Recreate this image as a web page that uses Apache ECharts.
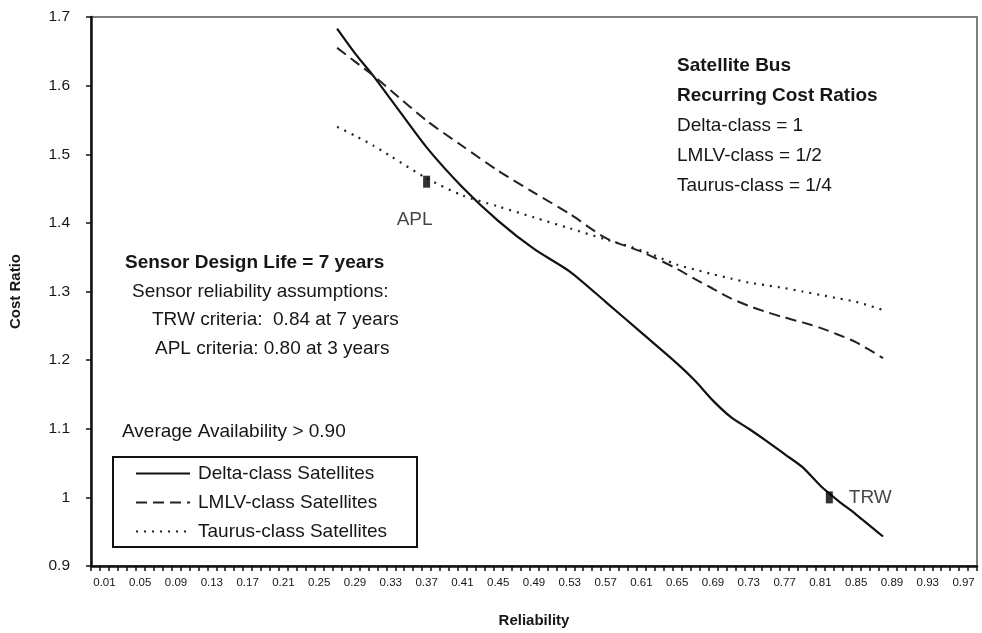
<!DOCTYPE html>
<html><head><meta charset="utf-8">
<script src="https://cdn.jsdelivr.net/npm/echarts@6/dist/echarts.min.js"></script>
<style>html,body{margin:0;padding:0;background:#fff}#c{width:982px;height:633px}</style>
</head><body><div id="c"></div>
<script>
// x categories: reliability 0.00 .. 0.98 (labels every 4th, starting at 0.01)
const categories = [];
for (let i = 0; i <= 98; i++) categories.push((i / 100).toFixed(2));

const sampleX = ['0.27','0.29','0.31','0.33','0.37','0.41','0.45','0.49','0.53','0.57','0.61','0.65','0.67','0.69','0.71','0.73','0.75','0.77','0.79','0.81','0.83','0.85','0.88'];
const deltaY  = [1.683,1.647,1.615,1.580,1.510,1.452,1.403,1.362,1.329,1.285,1.240,1.195,1.170,1.141,1.117,1.100,1.082,1.063,1.044,1.017,0.995,0.975,0.943];
const lmlvY   = [1.655,1.635,1.615,1.593,1.549,1.512,1.476,1.444,1.413,1.378,1.358,1.333,1.318,1.304,1.290,1.279,1.270,1.262,1.255,1.247,1.237,1.226,1.203];
const taurusY = [1.540,1.527,1.513,1.497,1.465,1.440,1.424,1.408,1.392,1.376,1.360,1.339,1.332,1.325,1.319,1.313,1.309,1.305,1.300,1.295,1.290,1.285,1.273];

const seriesNames = ['Delta-class Satellites','LMLV-class Satellites','Taurus-class Satellites'];
const pointNames = ['APL','TRW'];
const pointX = ['0.37','0.82'];
const pointY = [1.46, 1.0];

const pairs = ys => sampleX.map((x, i) => [x, ys[i]]);
const FONT = 'Liberation Sans, Arial, sans-serif';
const TXT = '#161616';
const FS = 19;

const chart = echarts.init(document.getElementById('c'), null, {renderer: 'canvas'});
const txt = (x, y, s, bold) => ({type: 'text', x: x, y: y, z: 10,
  style: {text: s, fontFamily: FONT, fontSize: FS, fontWeight: bold ? 'bold' : 'normal', fill: TXT, verticalAlign: 'middle', align: 'left'}});

chart.setOption({
  animation: false,
  backgroundColor: '#fff',
  grid: {left: 89, right: 5, top: 17, bottom: 66, show: true, borderColor: '#555', borderWidth: 1.5, backgroundColor: 'transparent'},
  xAxis: {
    type: 'category', data: categories, boundaryGap: true,
    name: 'Reliability', nameLocation: 'middle', nameGap: 47,
    nameTextStyle: {fontFamily: FONT, fontWeight: 'bold', fontSize: 15, color: TXT},
    axisLine: {lineStyle: {color: '#111', width: 2.5}},
    axisTick: {show: true, interval: 0, length: 5, lineStyle: {color: '#111', width: 1.5}},
    axisLabel: {interval: (i) => i % 4 === 1, fontFamily: FONT, fontSize: 11.5, color: TXT, margin: 11},
    splitLine: {show: false}
  },
  yAxis: {
    type: 'value', min: 0.9, max: 1.7, interval: 0.1,
    name: 'Cost Ratio', nameLocation: 'middle', nameGap: 68, nameRotate: 90,
    nameTextStyle: {fontFamily: FONT, fontWeight: 'bold', fontSize: 15, color: TXT},
    axisLine: {show: true, lineStyle: {color: '#111', width: 2.5}},
    axisTick: {show: true, length: 5, lineStyle: {color: '#111', width: 1.5}},
    axisLabel: {fontFamily: FONT, fontSize: 15.5, color: TXT, margin: 21, formatter: v => String(Math.round(v * 10) / 10)},
    splitLine: {show: false}
  },
  legend: {
    data: seriesNames, orient: 'vertical', left: 113, top: 457,
    itemWidth: 54, itemHeight: 14, itemGap: 10,
    padding: [7, 30, 6, 22],
    borderColor: '#111', borderWidth: 2, backgroundColor: '#fff',
    itemStyle: {opacity: 0},
    textStyle: {fontFamily: FONT, fontSize: FS, color: TXT, padding: [0, 0, 0, 3]},
    selectedMode: false
  },
  series: [
    {name: seriesNames[0], type: 'line', data: pairs(deltaY), symbol: 'none', smooth: 0.25,
     lineStyle: {color: '#111', width: 2.2, type: 'solid'}, itemStyle: {color: '#111'}, z: 3},
    {name: seriesNames[1], type: 'line', data: pairs(lmlvY), symbol: 'none', smooth: 0.25,
     lineStyle: {color: '#222', width: 2, type: [11, 6]}, itemStyle: {color: '#222'}, z: 3},
    {name: seriesNames[2], type: 'line', data: pairs(taurusY), symbol: 'none', smooth: 0.25,
     lineStyle: {color: '#222', width: 2.2, type: [2, 6]}, itemStyle: {color: '#222'}, z: 3},
    {name: 'points', type: 'scatter', symbol: 'rect', symbolSize: [7, 12], z: 5,
     itemStyle: {color: '#000'},
     data: [
       {value: [pointX[0], pointY[0]], name: pointNames[0], label: {show: true, formatter: pointNames[0], position: 'bottom', offset: [-12, 18], fontFamily: FONT, fontSize: FS, color: TXT}},
       {value: [pointX[1], pointY[1]], name: pointNames[1], label: {show: true, formatter: pointNames[1], position: 'right', distance: 16, fontFamily: FONT, fontSize: FS, color: TXT}}
     ]}
  ],
  graphic: [
    txt(677, 66, 'Satellite Bus', true),
    txt(677, 96, 'Recurring Cost Ratios', true),
    txt(677, 126, 'Delta-class = 1'),
    txt(677, 156, 'LMLV-class = 1/2'),
    txt(677, 186, 'Taurus-class = 1/4'),
    txt(125, 263, 'Sensor Design Life = 7 years', true),
    txt(132, 292, 'Sensor reliability assumptions:'),
    txt(152, 320, 'TRW criteria:  0.84 at 7 years'),
    txt(155, 349, 'APL criteria: 0.80 at 3 years'),
    txt(122, 432, 'Average Availability > 0.90')
  ]
});
</script></body></html>
